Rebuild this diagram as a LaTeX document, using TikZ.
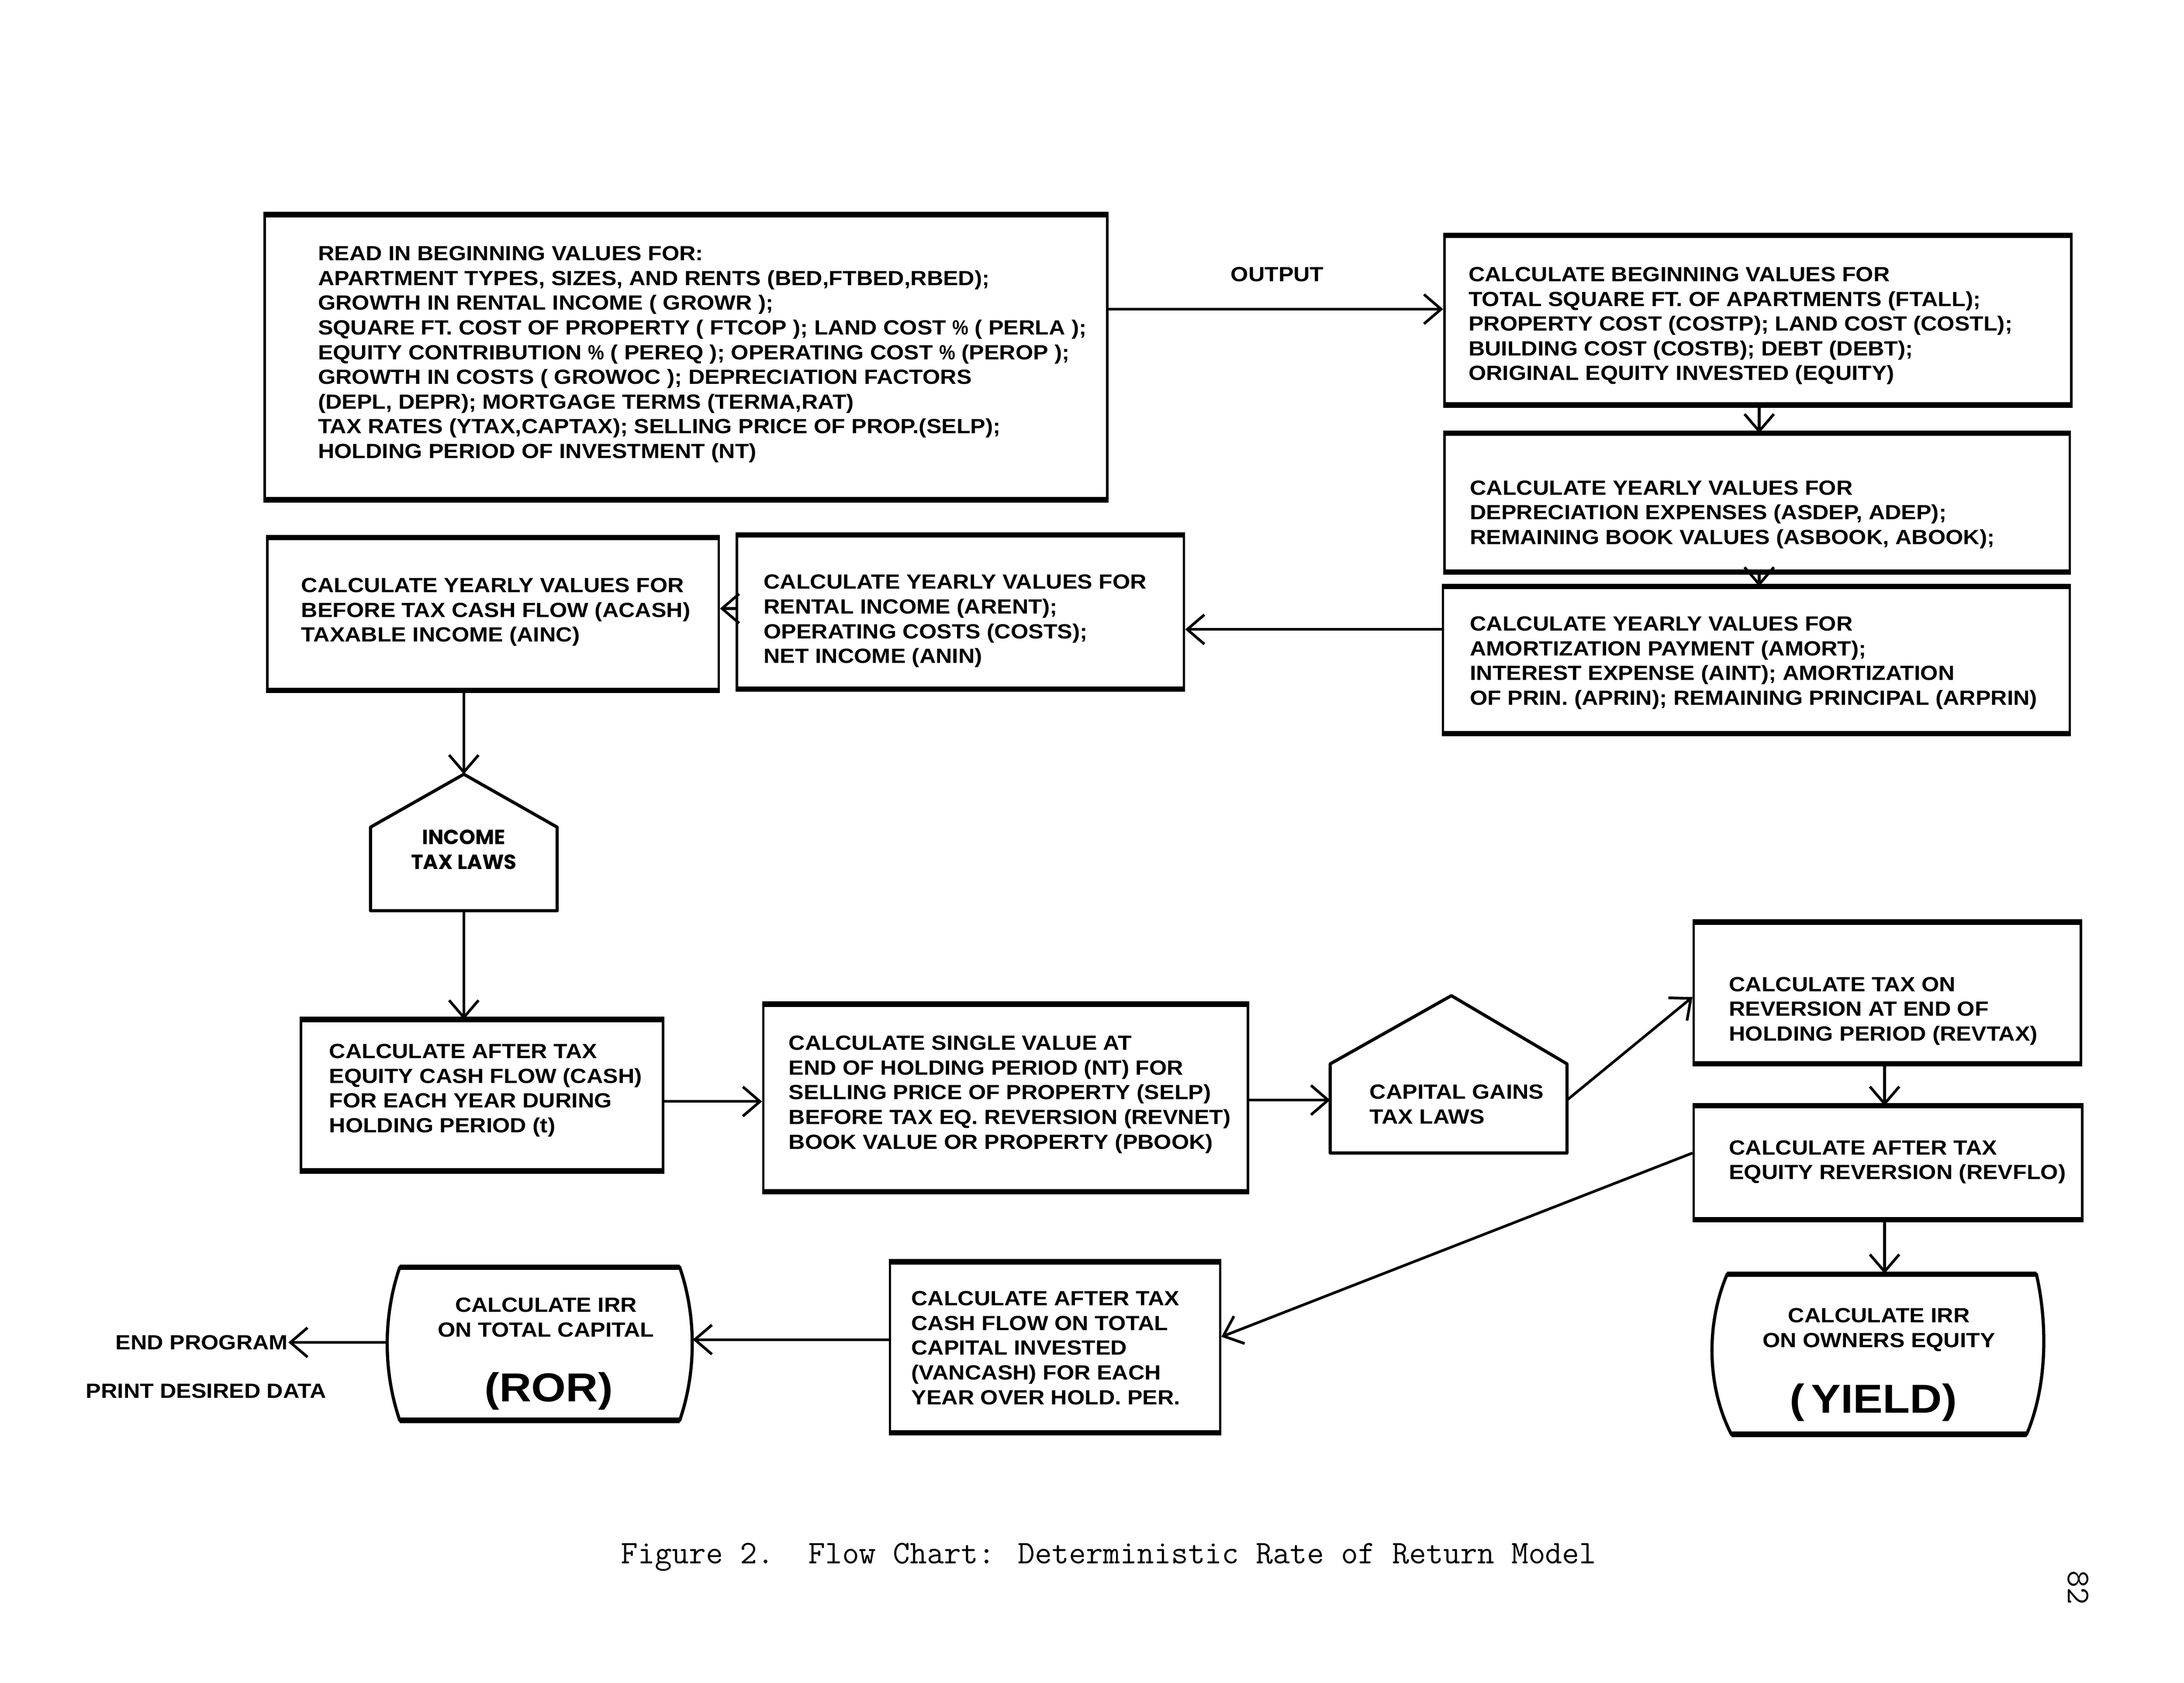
\documentclass[tikz,border=0pt]{standalone}
\usepackage{fontspec}
\setmainfont{Liberation Sans}
\newfontfamily\boxfont[FakeStretch=1.1]{Liberation Sans}
\newfontfamily\lawfont{Poppins}
\usetikzlibrary{arrows.meta}
\newcommand\bx[5]{\node[boxst, minimum width={(#4-#2)*0.02cm}, minimum height={(#5-#3)*0.02cm}] (#1) at ({(#2+#4)/2},{(#3+#5)/2}) {};
\draw[edge] (#1.north west) -- (#1.north east);
\draw[edge] (#1.south west) -- (#1.south east);}
\newcommand\pct{\scalebox{0.8}[1]{\%}}
\tikzset{
  boxst/.style={draw, line width=1pt, inner sep=0pt, rectangle},
  edge/.style={line width=2.2pt},
  ghost/.style={inner sep=0pt, rectangle},
  txt/.style={inner sep=0pt, align=left, font=\boxfont\fontsize{8.4}{10.1}\selectfont\bfseries},
  ctxt/.style={inner sep=0pt, align=center, font=\boxfont\fontsize{8.4}{10.1}\selectfont\bfseries},
  big/.style={inner sep=0pt, font=\boxfont\fontsize{16.5}{18}\selectfont\bfseries},
  arr/.style={line width=1.1pt, -{Straight Barb[length=7pt, width=12pt, line width=1.1pt]}},
  shp/.style={line width=1.3pt, line join=round}
}
\begin{document}
\begin{tikzpicture}[x=0.02cm, y=-0.02cm]
\useasboundingbox (0,0) rectangle (1568,1208.5);
% boxes
\bx{b1}{190}{155}{795}{358}
\bx{b2}{1037}{170}{1487}{290}
\bx{b3}{1037}{312}{1486}{410}
\bx{b4}{1036}{422}{1486}{526}
\bx{b5}{529}{385}{850}{494}
\bx{b6}{192}{387}{516}{495}
\bx{b7}{216}{733}{476}{840}
\bx{b8}{548}{722}{896}{855}
\bx{b9}{1216}{663}{1494}{763}
\bx{b10}{1216}{795}{1495}{875}
\bx{b11}{639}{907}{876}{1028}
% box texts
\node[txt, anchor=west] (t1) at (228,254.5) {READ IN BEGINNING VALUES FOR:\\
APARTMENT TYPES, SIZES, AND RENTS (BED,FTBED,RBED);\\
GROWTH IN RENTAL INCOME ( GROWR );\\
SQUARE FT. COST OF PROPERTY ( FTCOP ); LAND COST \pct{} ( PERLA );\\
EQUITY CONTRIBUTION \pct{} ( PEREQ ); OPERATING COST \pct{} (PEROP );\\
GROWTH IN COSTS ( GROWOC ); DEPRECIATION FACTORS\\
(DEPL, DEPR); MORTGAGE TERMS (TERMA,RAT)\\
TAX RATES (YTAX,CAPTAX); SELLING PRICE OF PROP.(SELP);\\
HOLDING PERIOD OF INVESTMENT (NT)};
\node[txt, anchor=west] (t2) at (1054,234) {CALCULATE BEGINNING VALUES FOR\\
TOTAL SQUARE FT. OF APARTMENTS (FTALL);\\
PROPERTY COST (COSTP); LAND COST (COSTL);\\
BUILDING COST (COSTB); DEBT (DEBT);\\
ORIGINAL EQUITY INVESTED (EQUITY)};
\node[txt, anchor=west] (t3) at (1055,369.5) {CALCULATE YEARLY VALUES FOR\\
DEPRECIATION EXPENSES (ASDEP, ADEP);\\
REMAINING BOOK VALUES (ASBOOK, ABOOK);};
\node[txt, anchor=west] (t4) at (1055,476) {CALCULATE YEARLY VALUES FOR\\
AMORTIZATION PAYMENT (AMORT);\\
INTEREST EXPENSE (AINT); AMORTIZATION\\
OF PRIN. (APRIN); REMAINING PRINCIPAL (ARPRIN)};
\node[txt, anchor=west] (t5) at (548,446) {CALCULATE YEARLY VALUES FOR\\
RENTAL INCOME (ARENT);\\
OPERATING COSTS (COSTS);\\
NET INCOME (ANIN)};
\node[txt, anchor=west] (t6) at (216,439.5) {CALCULATE YEARLY VALUES FOR\\
BEFORE TAX CASH FLOW (ACASH)\\
TAXABLE INCOME (AINC)};
\node[txt, anchor=west] (t7) at (236,783) {CALCULATE AFTER TAX\\
EQUITY CASH FLOW (CASH)\\
FOR EACH YEAR DURING\\
HOLDING PERIOD (t)};
\node[txt, anchor=west] (t8) at (566,786) {CALCULATE SINGLE VALUE AT\\
END OF HOLDING PERIOD (NT) FOR\\
SELLING PRICE OF PROPERTY (SELP)\\
BEFORE TAX EQ. REVERSION (REVNET)\\
BOOK VALUE OR PROPERTY (PBOOK)};
\node[txt, anchor=west] (t9) at (1241,726) {CALCULATE TAX ON\\
REVERSION AT END OF\\
HOLDING PERIOD (REVTAX)};
\node[txt, anchor=west] (t10) at (1241,834.5) {CALCULATE AFTER TAX\\
EQUITY REVERSION (REVFLO)};
\node[txt, anchor=west] (t11) at (654,968) {CALCULATE AFTER TAX\\
CASH FLOW ON TOTAL\\
CAPITAL INVESTED\\
(VANCASH) FOR EACH\\
YEAR OVER HOLD. PER.};
% income tax laws pentagon
\coordinate (incT) at (333,556);
\coordinate (incL) at (266,594);
\coordinate (incR) at (400,594);
\coordinate (incBL) at (266,654);
\coordinate (incBR) at (400,654);
\coordinate (incB) at (333,654);
\draw[shp] (incT) -- (incR) -- (incBR) -- (incBL) -- (incL) -- cycle;
\node[inner sep=0pt, align=center, font=\lawfont\fontsize{8.4}{10.1}\selectfont\bfseries] (inc) at (333,610) {INCOME\\TAX LAWS};
% capital gains pentagon
\coordinate (cgT) at (1042,715);
\coordinate (cgL) at (955,764);
\coordinate (cgR) at (1125,764);
\coordinate (cgBL) at (955,828);
\coordinate (cgBR) at (1125,828);
\coordinate (cgW) at (955,790);
\coordinate (cgE) at (1125,790);
\draw[shp] (cgT) -- (cgR) -- (cgBR) -- (cgBL) -- (cgL) -- cycle;
\node[txt, anchor=west] (cg) at (983,793) {CAPITAL GAINS\\TAX LAWS};
% ROR barrel
\node[ghost, minimum width={219*0.02cm}, minimum height={110*0.02cm}] (ror) at (387.5,965) {};
\draw[shp] (287,910) -- (488,910) .. controls (500,945) and (500,985) .. (488,1020) -- (287,1020) .. controls (275,985) and (275,945) .. cycle;
\draw[edge] (287,910) -- (488,910);
\draw[edge] (287,1020) -- (488,1020);
\node[ctxt] (rort) at (392,946) {CALCULATE IRR\\ON TOTAL CAPITAL};
\node[big] (rorb) at (394,999) {(ROR)};
% YIELD barrel
\node[ghost, minimum width={238*0.02cm}, minimum height={115*0.02cm}] (yld) at (1347,972.5) {};
\draw[shp] (1240,915) -- (1462,915) .. controls (1470,950) and (1470,995) .. (1455,1030) -- (1243,1030) .. controls (1225,995) and (1225,950) .. cycle;
\draw[edge] (1240,915) -- (1462,915);
\draw[edge] (1243,1030) -- (1455,1030);
\node[ctxt] (yldt) at (1349,955) {CALCULATE IRR\\ON OWNERS EQUITY};
\node[big] (yldb) at (1345,1007) {(\,YIELD)};
% free labels
\node[txt] (out) at (917,197) {OUTPUT};
\node[txt, anchor=east] (endp) at (207,964) {END PROGRAM};
\node[txt] (prt) at (148,999) {PRINT DESIRED DATA};
\node[inner sep=0pt, font=\ttfamily\fontsize{13.5}{15}\selectfont] (cap) at (796,1118) {Figure 2.\ \ Flow Chart: Deterministic Rate of Return Model};
\node[inner sep=0pt, rotate=-90, font=\ttfamily\fontsize{13.5}{15}\selectfont] (pg) at (1492,1140) {82};
% connectors
\draw[arr] (b1.east |- 0,222) -- (b2.west |- 0,222);
\draw[arr] (b2.south -| 1263,0) -- (b3.north -| 1263,0);
\draw[arr] (b3.south -| 1263,0) -- (b4.north -| 1263,0);
\draw[arr] (b4.west |- 0,452) -- (b5.east |- 0,452);
\draw[arr] (b5.west |- 0,437) -- (b6.east |- 0,437);
\draw[arr] (b6.south -| incT) -- (incT);
\draw[arr] (incB) -- (incB |- b7.north);
\draw[arr] (b7.east |- 0,791) -- (b8.west |- 0,791);
\draw[arr] (b8.east |- cgW) -- (cgW);
\draw[arr] (cgE) -- (b9.west |- 0,716);
\draw[arr] (b9.south -| 1353,0) -- (b10.north -| 1353,0);
\draw[arr] (b10.south -| 1353,0) -- (yld.north -| 1353,0);
\draw[arr] (b10.west |- 0,828) -- (b11.east |- 0,960);
\draw[arr] (b11.west |- 0,962) -- (ror.east |- 0,962);
\draw[arr] (ror.west |- 0,964) -- (endp.east);
\end{tikzpicture}
\end{document}
